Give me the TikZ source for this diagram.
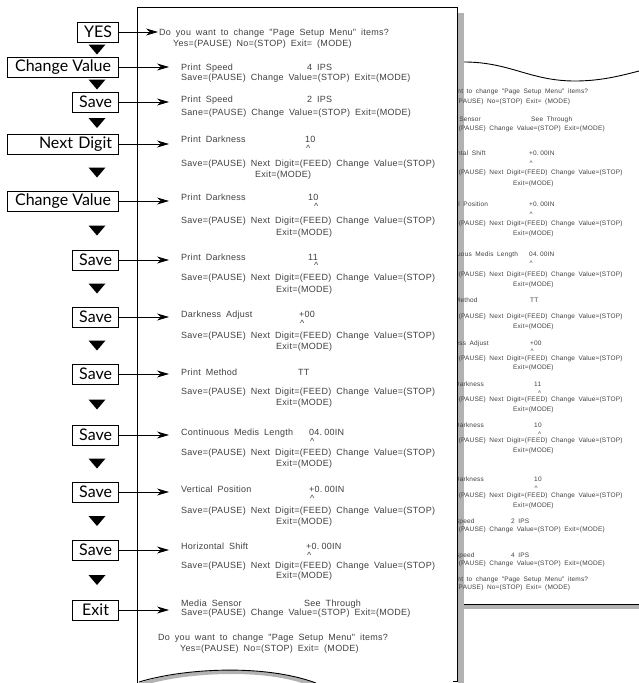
\documentclass[tikz,border=0pt]{standalone}
\usepackage{fontspec}
\usepackage{tikz}
\usetikzlibrary{arrows.meta,positioning,calc}
\newfontfamily\prfont[LetterSpace=3,WordSpace=1.8]{Liberation Sans}
\newfontfamily\btnfont{Lato}

\begin{document}
\begin{tikzpicture}[
  x=1pt, y=-1pt,
  btn/.style={draw=black, line width=0.8pt, fill=white, anchor=east,
    font=\btnfont\fontsize{16}{18}\selectfont, minimum height=20pt,
    minimum width=46pt, inner xsep=6.5pt, inner ysep=0pt},
  widebtn/.style={btn, minimum width=111pt},
  prt/.style={font=\prfont\fontsize{9}{10}\selectfont, text=black!75,
    inner sep=0pt, anchor=base west},
  prtsmall/.style={prt, font=\prfont\fontsize{6.5}{7}\selectfont},
  arrow/.style={-{Stealth[length=12pt,width=7pt]}, line width=0.8pt},
  tri/.style={fill=black},
  edge/.style={line width=0.9pt}
]
  \useasboundingbox (0,0) rectangle (639,683);

  % sheet lying behind, with the shadow of the front sheet
  \fill[gray!60] (458,13) rectangle (464,683);
  \fill[gray!60] (464,604) rectangle (639,609);
  \draw[edge] (464,604) -- (639,604);
  \draw[edge] (464,62) .. controls (510,62) and (530,81) .. (575,81)
    .. controls (600,81) and (620,76) .. (639,71);

  \node[prtsmall] (r-ask) at (422,93) {Do you want to change "Page Setup Menu" items?};
  \node[prtsmall] (r-askkeys) at (441,103) {Yes=(PAUSE) No=(STOP) Exit= (MODE)};
  \node[prtsmall] (r-sns) at (437,121) {Media Sensor};
  \node[prtsmall] (r-snsv) at (531,121) {See Through};
  \node[prtsmall] (r-snskeys) at (439,130) {Save=(PAUSE) Change Value=(STOP) Exit=(MODE)};
  \node[prtsmall] (r-hor) at (437,155) {Horizontal Shift};
  \node[prtsmall] (r-horv) at (529,155) {+0.\kern1.5pt 00IN};
  \node[prtsmall] (r-horc) at (529.5,165) {\textasciicircum};
  \node[prtsmall] (r-horkeys) at (439,174) {Save=(PAUSE) Next Digit=(FEED) Change Value=(STOP)};
  \node[prtsmall] (r-horexit) at (513,185) {Exit=(MODE)};
  \node[prtsmall] (r-ver) at (437,206) {Vertical Position};
  \node[prtsmall] (r-verv) at (529,206) {+0.\kern1.5pt 00IN};
  \node[prtsmall] (r-verc) at (529.5,216) {\textasciicircum};
  \node[prtsmall] (r-verkeys) at (439,225) {Save=(PAUSE) Next Digit=(FEED) Change Value=(STOP)};
  \node[prtsmall] (r-verexit) at (513,235) {Exit=(MODE)};
  \node[prtsmall] (r-len) at (437,256) {Continuous Medis Length};
  \node[prtsmall] (r-lenv) at (529,256) {04.\kern1.5pt 00IN};
  \node[prtsmall] (r-lenc) at (529.5,265) {\textasciicircum};
  \node[prtsmall] (r-lenkeys) at (439,276) {Save=(PAUSE) Next Digit=(FEED) Change Value=(STOP)};
  \node[prtsmall] (r-lenexit) at (513,286) {Exit=(MODE)};
  \node[prtsmall] (r-mth) at (437,302) {Print Method};
  \node[prtsmall] (r-mthv) at (530,302) {TT};
  \node[prtsmall] (r-mthkeys) at (439,318) {Save=(PAUSE) Next Digit=(FEED) Change Value=(STOP)};
  \node[prtsmall] (r-mthexit) at (513,328) {Exit=(MODE)};
  \node[prtsmall] (r-adj) at (437,345) {Darkness Adjust};
  \node[prtsmall] (r-adjv) at (530,345) {+00};
  \node[prtsmall] (r-adjc) at (530.5,353.5) {\textasciicircum};
  \node[prtsmall] (r-adjkeys) at (439,360) {Save=(PAUSE) Next Digit=(FEED) Change Value=(STOP)};
  \node[prtsmall] (r-adjexit) at (513,369) {Exit=(MODE)};
  \node[prtsmall] (r-drkC) at (437,386) {Print Darkness};
  \node[prtsmall] (r-drkCv) at (534,386) {11};
  \node[prtsmall] (r-drkCc) at (538,395) {\textasciicircum};
  \node[prtsmall] (r-drkCkeys) at (439,401) {Save=(PAUSE) Next Digit=(FEED) Change Value=(STOP)};
  \node[prtsmall] (r-drkCexit) at (513,411) {Exit=(MODE)};
  \node[prtsmall] (r-drkB) at (437,427) {Print Darkness};
  \node[prtsmall] (r-drkBv) at (534,427) {10};
  \node[prtsmall] (r-drkBc) at (538,436) {\textasciicircum};
  \node[prtsmall] (r-drkBkeys) at (439,442) {Save=(PAUSE) Next Digit=(FEED) Change Value=(STOP)};
  \node[prtsmall] (r-drkBexit) at (513,452) {Exit=(MODE)};
  \node[prtsmall] (r-drkA) at (437,481) {Print Darkness};
  \node[prtsmall] (r-drkAv) at (534,481) {10};
  \node[prtsmall] (r-drkAc) at (534.5,490) {\textasciicircum};
  \node[prtsmall] (r-drkAkeys) at (439,497) {Save=(PAUSE) Next Digit=(FEED) Change Value=(STOP)};
  \node[prtsmall] (r-drkAexit) at (513,507) {Exit=(MODE)};
  \node[prtsmall] (r-spdB) at (437,523) {Print Speed};
  \node[prtsmall] (r-spdBv) at (511,523) {2 IPS};
  \node[prtsmall] (r-spdBkeys) at (439,531) {Save=(PAUSE) Change Value=(STOP) Exit=(MODE)};
  \node[prtsmall] (r-spdA) at (437,557) {Print Speed};
  \node[prtsmall] (r-spdAv) at (511,557) {4 IPS};
  \node[prtsmall] (r-spdAkeys) at (439,565) {Save=(PAUSE) Change Value=(STOP) Exit=(MODE)};
  \node[prtsmall] (r-end) at (422,581) {Do you want to change "Page Setup Menu" items?};
  \node[prtsmall] (r-endkeys) at (441,589) {Yes=(PAUSE) No=(STOP) Exit= (MODE)};

  % front sheet
  \fill[white] (137,7) rectangle (457,683);
  \fill[gray!60] (139,683) .. controls (185,668) and (265,664) .. (316,683)
    -- (302,683) .. controls (262,670) and (195,672) .. (152,683) -- cycle;
  \draw[edge] (137,683) -- (137,7) -- (457,7) -- (457,681) -- (453,681);
  \draw[edge] (139,682) .. controls (185,668) and (265,664) .. (316,683);

  \node[prt] (ask) at (159,35) {Do you want to change "Page Setup Menu" items?};
  \node[prt] (askkeys) at (173,46) {Yes=(PAUSE) No=(STOP) Exit= (MODE)};
  \node[prt] (spdA) at (181,70) {Print Speed};
  \node[prt] (spdAv) at (307,70) {4 IPS};
  \node[prt] (spdAkeys) at (181,80) {Save=(PAUSE) Change Value=(STOP) Exit=(MODE)};
  \node[prt] (spdB) at (181,102) {Print Speed};
  \node[prt] (spdBv) at (307,102) {2 IPS};
  \node[prt] (spdBkeys) at (181,115) {Sane=(PAUSE) Change Value=(STOP) Exit=(MODE)};
  \node[prt] (drkA) at (181,142) {Print Darkness};
  \node[prt] (drkAv) at (305,142) {10};
  \node[prt] (drkAc) at (306,151) {\textasciicircum};
  \node[prt] (drkAkeys) at (181,166) {Save=(PAUSE) Next Digit=(FEED) Change Value=(STOP)};
  \node[prt] (drkAexit) at (255,177) {Exit=(MODE)};
  \node[prt] (drkB) at (181,200) {Print Darkness};
  \node[prt] (drkBv) at (308,200) {10};
  \node[prt] (drkBc) at (314,209) {\textasciicircum};
  \node[prt] (drkBkeys) at (181,223) {Save=(PAUSE) Next Digit=(FEED) Change Value=(STOP)};
  \node[prt] (drkBexit) at (276,235) {Exit=(MODE)};
  \node[prt] (drkC) at (181,260) {Print Darkness};
  \node[prt] (drkCv) at (308,260) {11};
  \node[prt] (drkCc) at (314,268) {\textasciicircum};
  \node[prt] (drkCkeys) at (181,280) {Save=(PAUSE) Next Digit=(FEED) Change Value=(STOP)};
  \node[prt] (drkCexit) at (276,292) {Exit=(MODE)};
  \node[prt] (adj) at (181,317) {Darkness Adjust};
  \node[prt] (adjv) at (299,317) {+00};
  \node[prt] (adjc) at (300,326) {\textasciicircum};
  \node[prt] (adjkeys) at (181,338) {Save=(PAUSE) Next Digit=(FEED) Change Value=(STOP)};
  \node[prt] (adjexit) at (276,349) {Exit=(MODE)};
  \node[prt] (mth) at (181,375) {Print Method};
  \node[prt] (mthv) at (298,375) {TT};
  \node[prt] (mthkeys) at (181,394) {Save=(PAUSE) Next Digit=(FEED) Change Value=(STOP)};
  \node[prt] (mthexit) at (276,405) {Exit=(MODE)};
  \node[prt] (len) at (181,435) {Continuous Medis Length};
  \node[prt] (lenv) at (309,435) {04.\kern2pt 00IN};
  \node[prt] (lenc) at (310,444) {\textasciicircum};
  \node[prt] (lenkeys) at (181,455) {Save=(PAUSE) Next Digit=(FEED) Change Value=(STOP)};
  \node[prt] (lenexit) at (276,466) {Exit=(MODE)};
  \node[prt] (ver) at (181,492) {Vertical Position};
  \node[prt] (verv) at (309,492) {+0.\kern2pt 00IN};
  \node[prt] (verc) at (310,501) {\textasciicircum};
  \node[prt] (verkeys) at (181,513) {Save=(PAUSE) Next Digit=(FEED) Change Value=(STOP)};
  \node[prt] (verexit) at (276,524) {Exit=(MODE)};
  \node[prt] (hor) at (181,549) {Horizontal Shift};
  \node[prt] (horv) at (306,549) {+0.\kern2pt 00IN};
  \node[prt] (horc) at (307,558) {\textasciicircum};
  \node[prt] (horkeys) at (181,568) {Save=(PAUSE) Next Digit=(FEED) Change Value=(STOP)};
  \node[prt] (horexit) at (276,578) {Exit=(MODE)};
  \node[prt] (sns) at (181,606) {Media Sensor};
  \node[prt] (snsv) at (304,606) {See Through};
  \node[prt] (snskeys) at (181,615) {Save=(PAUSE) Change Value=(STOP) Exit=(MODE)};
  \node[prt] (end) at (158,640) {Do you want to change "Page Setup Menu" items?};
  \node[prt] (endkeys) at (180,651) {Yes=(PAUSE) No=(STOP) Exit= (MODE)};

  % keys pressed
  \node[btn, minimum width=40pt] (yes) at (119,32) {YES};
  \node[widebtn] (cv1) at (119,67) {Change Value};
  \node[btn] (sv1) at (119,102) {Save};
  \node[widebtn, text width=98pt, align=right] (nd) at (119,144) {Next Digit};
  \node[widebtn] (cv2) at (119,201) {Change Value};
  \node[btn] (sv2) at (119,260) {Save};
  \node[btn] (sv3) at (119,317) {Save};
  \node[btn] (sv4) at (119,374) {Save};
  \node[btn] (sv5) at (119,435) {Save};
  \node[btn] (sv6) at (119,492) {Save};
  \node[btn] (sv7) at (119,550) {Save};
  \node[btn] (ex) at (119,610) {Exit};

  \coordinate (t1) at (158,32);
  \coordinate (t2) at (169,67);
  \coordinate (t3) at (169,102);
  \coordinate (t4) at (169,144);
  \coordinate (t5) at (169,201);
  \coordinate (t6) at (169,260);
  \coordinate (t7) at (169,317);
  \coordinate (t8) at (169,374);
  \coordinate (t9) at (169,435);
  \coordinate (t10) at (169,492);
  \coordinate (t11) at (169,550);
  \coordinate (t12) at (169,610);

  \draw[arrow] (yes) -- (t1);
  \draw[arrow] (cv1) -- (t2);
  \draw[arrow] (sv1) -- (t3);
  \draw[arrow] (nd) -- (t4);
  \draw[arrow] (cv2) -- (t5);
  \draw[arrow] (sv2) -- (t6);
  \draw[arrow] (sv3) -- (t7);
  \draw[arrow] (sv4) -- (t8);
  \draw[arrow] (sv5) -- (t9);
  \draw[arrow] (sv6) -- (t10);
  \draw[arrow] (sv7) -- (t11);
  \draw[arrow] (ex) -- (t12);

  \foreach \a/\b in {yes/cv1,cv1/sv1,sv1/nd,nd/cv2,cv2/sv2,sv2/sv3,sv3/sv4,sv4/sv5,sv5/sv6,sv6/sv7,sv7/ex}
    \fill[tri] ($(\a.south east)!0.5!(\b.north east)+(-30.5,-5)$) -- ++(17,0) -- ++(-8.5,10) -- cycle;
\end{tikzpicture}
\end{document}
